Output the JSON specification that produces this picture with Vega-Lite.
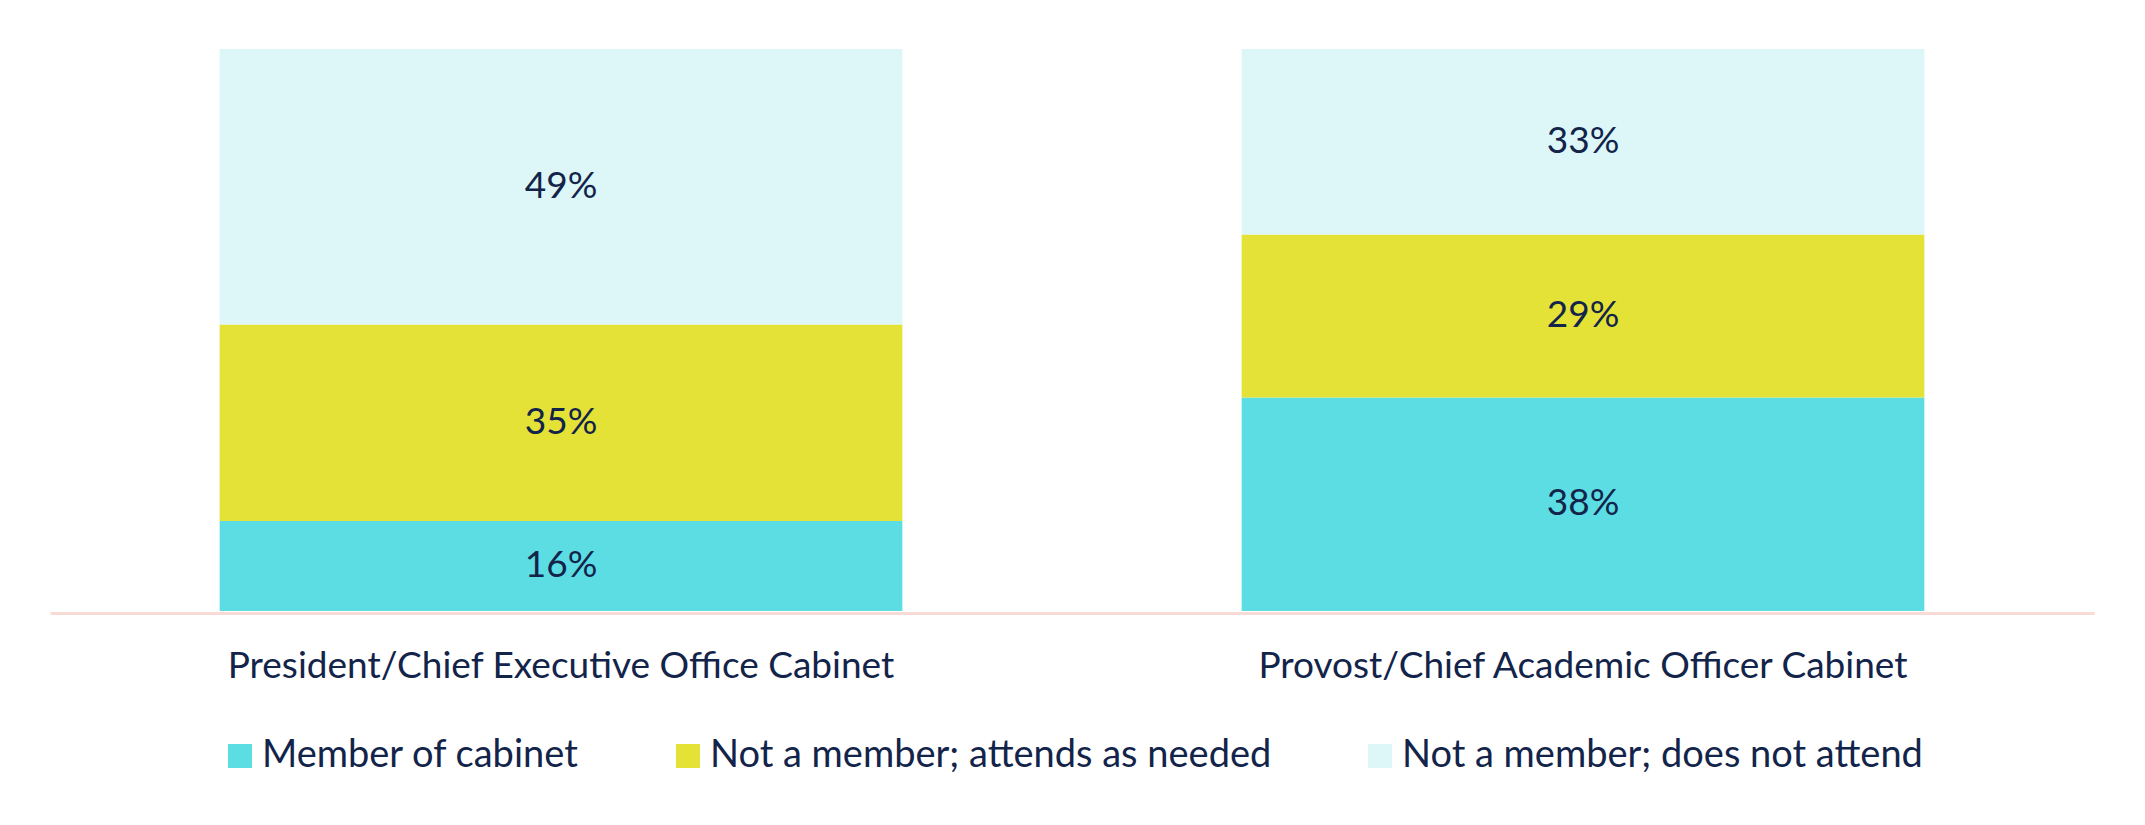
{
  "$schema": "https://vega.github.io/schema/vega-lite/v6.json",
  "autosize": "none",
  "width": 2044,
  "height": 562,
  "padding": {"left": 50, "top": 49, "right": 51, "bottom": 214},
  "background": "white",
  "config": {"view": {"stroke": null}, "font": "Lato"},
  "data": {
    "values": [
      {"cabinet": "President/Chief Executive Office Cabinet", "status": "Member of cabinet", "pct": 0.16},
      {"cabinet": "President/Chief Executive Office Cabinet", "status": "Not a member; attends as needed", "pct": 0.35},
      {"cabinet": "President/Chief Executive Office Cabinet", "status": "Not a member; does not attend", "pct": 0.49},
      {"cabinet": "Provost/Chief Academic Officer Cabinet", "status": "Member of cabinet", "pct": 0.38},
      {"cabinet": "Provost/Chief Academic Officer Cabinet", "status": "Not a member; attends as needed", "pct": 0.29},
      {"cabinet": "Provost/Chief Academic Officer Cabinet", "status": "Not a member; does not attend", "pct": 0.33}
    ]
  },
  "transform": [
    {"stack": "pct", "groupby": ["cabinet"], "sort": [{"field": "status", "order": "ascending"}], "as": ["y0", "y1"]},
    {"calculate": "(datum.y0 + datum.y1) / 2", "as": "ymid"}
  ],
  "encoding": {
    "x": {
      "field": "cabinet",
      "type": "nominal",
      "sort": null,
      "scale": {"paddingInner": 0.332, "paddingOuter": 0.166},
      "axis": {
        "title": null,
        "labelAngle": 0,
        "ticks": false,
        "tickSize": 0,
        "labelPadding": 53,
        "labelBaseline": "middle",
        "labelFontSize": 37,
        "labelFont": "Lato",
        "labelColor": "#13244a",
        "labelLimit": 2000,
        "domainColor": "#f8dad6",
        "domainWidth": 3,
        "offset": 2,
        "zindex": 0
      }
    }
  },
  "layer": [
    {
      "mark": {"type": "bar"},
      "encoding": {
        "y": {"field": "y0", "type": "quantitative", "scale": {"domain": [0, 1]}, "axis": null},
        "y2": {"field": "y1"},
        "color": {
          "field": "status",
          "type": "nominal",
          "scale": {
            "domain": ["Member of cabinet", "Not a member; attends as needed", "Not a member; does not attend"],
            "range": ["#5cdde4", "#e4e236", "#ddf7f8"]
          },
          "legend": {
            "title": null,
            "orient": "none",
            "direction": "horizontal",
            "legendX": 171,
            "legendY": 688,
            "symbolType": "square",
            "symbolSize": 576,
            "symbolStrokeWidth": 0,
            "labelFontSize": 38,
            "labelFont": "Lato",
            "labelColor": "#13244a",
            "labelOffset": 3,
            "labelLimit": 2000,
            "columnPadding": 89
          }
        }
      }
    },
    {
      "mark": {"type": "text", "fontSize": 37, "font": "Lato", "color": "#13244a", "baseline": "middle", "align": "center"},
      "encoding": {
        "y": {"field": "ymid", "type": "quantitative"},
        "text": {"field": "pct", "type": "quantitative", "format": ".0%"}
      }
    }
  ]
}
